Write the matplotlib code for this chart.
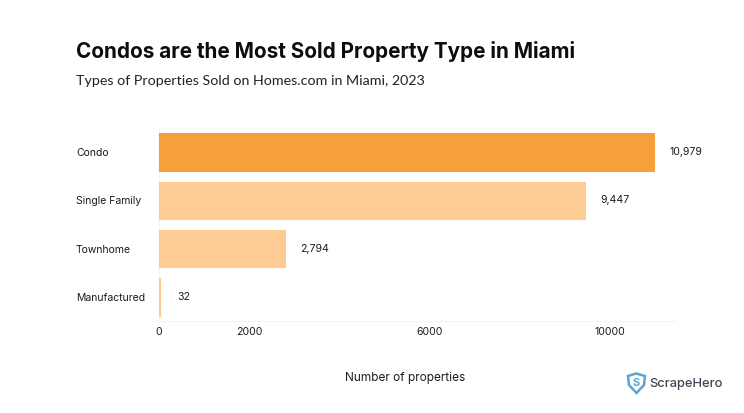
import matplotlib.pyplot as plt
from matplotlib.patches import Polygon

categories = ["Condo", "Single Family", "Townhome", "Manufactured"]
values = [10979, 9447, 2794, 32]
value_labels = ["10,979", "9,447", "2,794", "32"]
bar_colors = ["#F5A03A", "#FFCB94", "#FFCB94", "#FFCB94"]
x_ticks = [0, 2000, 6000, 10000]

W, H = 744, 413
plt.rcParams["font.family"] = ["Inter", "DejaVu Sans"]

fig = plt.figure(figsize=(W / 100, H / 100), dpi=100)
ax = fig.add_axes([159 / W, 1 - 321 / H, (676 - 159) / W, 193 / H])

ax.barh(range(len(values)), values, height=0.78, color=bar_colors, edgecolor=bar_colors,
        linewidth=0.8, zorder=3, clip_on=False)
ax.set_xlim(0, 11456)
ax.set_ylim(3.5, -0.5)

for i, (v, lab) in enumerate(zip(values, value_labels)):
    pad = 370 if i == 3 else 330
    ax.text(v + pad, i, lab, va="center", ha="left", fontsize=7.6, color="#1c1c1c")

ax.set_yticks(range(len(categories)))
ax.set_yticklabels(categories, fontsize=7.5, color="#1c1c1c")
for t in ax.get_yticklabels():
    t.set_x(-83 / 517)
    t.set_ha("left")
ax.set_xticks(x_ticks)
ax.set_xticklabels([str(t) for t in x_ticks], fontsize=7.6, color="#1c1c1c")
ax.tick_params(length=0)
ax.tick_params(axis="x", pad=4.5)
ax.tick_params(axis="y", pad=0)

for s in ["top", "right"]:
    ax.spines[s].set_visible(False)
ax.spines["left"].set_color("#f4f4f4")
ax.spines["bottom"].set_color("#f4f4f4")
ax.spines["left"].set_zorder(1)
ax.spines["bottom"].set_zorder(1)

fig.text(405 / W, 1 - 378 / H, "Number of properties", ha="center", va="center",
         fontsize=8.5, color="#1c1c1c")

fig.text(76 / W, 1 - 52 / H, "Condos are the Most Sold Property Type in Miami",
         ha="left", va="center", fontsize=14.9, fontweight="bold", color="#0d0d0d")
fig.text(76 / W, 1 - 81 / H, "Types of Properties Sold on Homes.com in Miami, 2023",
         ha="left", va="center", fontsize=10.25, color="#222222", family=["Lato", "DejaVu Sans"])

# logo
shield = [(628, 376), (636, 373.5), (645, 376), (644, 385), (636.5, 393), (629, 385)]
fig.add_artist(Polygon([(x / W, 1 - y / H) for x, y in shield], closed=True, fill=False,
                       edgecolor="#5AA5D8", linewidth=1.8, transform=fig.transFigure))
fig.text(636.5 / W, 1 - 382.5 / H, "S", ha="center", va="center", fontsize=8,
         fontweight="bold", color="#5AA5D8")
fig.text(649 / W, 1 - 383.5 / H, "ScrapeHero", ha="left", va="center", fontsize=9.3,
         fontweight="medium", color="#3f4654")

fig.savefig("out.png", dpi=100)
